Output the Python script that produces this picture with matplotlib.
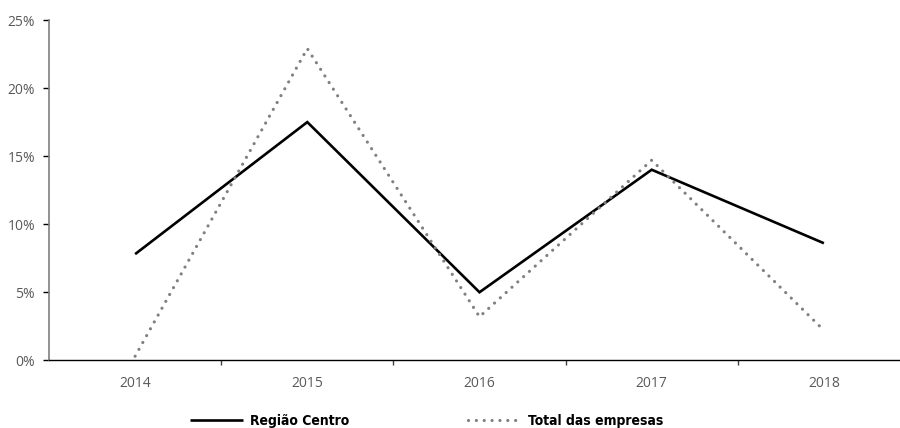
import matplotlib
matplotlib.use("Agg")
import matplotlib.pyplot as plt
from matplotlib.ticker import FixedLocator, PercentFormatter
from matplotlib import font_manager
from matplotlib.font_manager import FontProperties

years = ["2014", "2015", "2016", "2017", "2018"]
regiao_centro = [7.8, 17.5, 5.0, 14.0, 8.6]
total_empresas = [0.3, 22.9, 3.2, 14.7, 2.2]
y_ticks = [0, 5, 10, 15, 20, 25]

fonts = font_manager.fontManager.ttflist
names = {f.name for f in fonts}
tick_font = "Open Sans" if "Open Sans" in names else "DejaVu Sans"


def weight_value(w):
    if isinstance(w, int):
        return w
    return {"bold": 700, "semibold": 600, "demibold": 600, "heavy": 800,
            "black": 900, "extra bold": 800}.get(str(w).lower(), 400)


def narrow_bold_font(size):
    """Pick the narrowest bold face that is installed for the legend."""
    order = {"ultra-condensed": 0, "extra-condensed": 1, "condensed": 2,
             "semi-condensed": 3}
    best = None
    for f in fonts:
        st = str(f.stretch).lower()
        narrow = order.get(st)
        if narrow is None and ("narrow" in f.name.lower() or "condensed" in f.name.lower()):
            narrow = 2
        if narrow is None or f.style != "normal":
            continue
        w = weight_value(f.weight)
        if w < 600:
            continue
        key = (abs(w - 700), narrow, f.fname)
        if best is None or key < best[0]:
            best = (key, f.fname)
    if best is None:
        return FontProperties(family="DejaVu Sans", weight="bold", size=size)
    return FontProperties(fname=best[1], size=size)


fig = plt.figure(figsize=(9.0, 4.28), dpi=100)
ax = fig.add_axes([49 / 900, 1 - 360.3 / 428, (910 - 49) / 900, (360.3 - 20) / 428])

x = list(range(len(years)))
l1, = ax.plot(x, regiao_centro, color="black", lw=1.9, solid_capstyle="butt",
              solid_joinstyle="miter", label="Região Centro")
l2, = ax.plot(x, total_empresas, color="#808080", lw=2.3,
              linestyle=(0, (0.01, 2.45)), dash_capstyle="round",
              label="Total das empresas")

ax.set_xlim(-0.5, len(years) - 0.5)
ax.set_ylim(0, 25)
ax.set_yticks(y_ticks)
ax.yaxis.set_major_formatter(PercentFormatter(decimals=0))

ax.set_xticks(x)
ax.set_xticklabels(years)
ax.xaxis.set_minor_locator(FixedLocator([i + 0.5 for i in x[:-1]]))
ax.tick_params(axis="x", which="major", length=0, pad=11)
ax.tick_params(axis="x", which="minor", length=3.5, width=1, color="#404040", direction="out")
ax.tick_params(axis="y", which="major", length=4, width=1, color="black", pad=6)
ax.tick_params(axis="both", labelsize=10, labelcolor="#595959")
for lab in ax.get_xticklabels() + ax.get_yticklabels():
    lab.set_fontfamily(tick_font)

for side in ("top", "right"):
    ax.spines[side].set_visible(False)
ax.spines["left"].set_color("#7f7f7f")
ax.spines["left"].set_linewidth(1.2)
ax.spines["bottom"].set_color("black")
ax.spines["bottom"].set_linewidth(1.0)

legend_props = narrow_bold_font(10)
for handle, x0 in ((l1, 190), (l2, 468)):
    fig.legend(handles=[handle], loc="center left",
               bbox_to_anchor=(x0 / 900, (428 - 420.5) / 428),
               frameon=False, prop=legend_props, handlelength=3.8,
               handletextpad=0.55, borderpad=0, borderaxespad=0)

fig.savefig("out.png", dpi=100)
